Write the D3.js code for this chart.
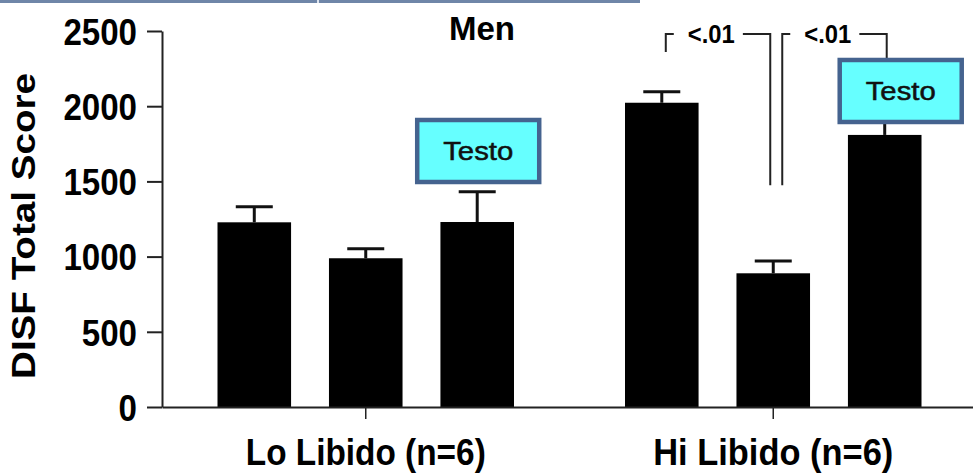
<!DOCTYPE html>
<html>
<head>
<meta charset="utf-8">
<script src="https://cdn.jsdelivr.net/npm/d3@7/dist/d3.min.js"></script>
<style>
  html, body { margin: 0; padding: 0; background: #fff; }
  svg { display: block; }
  text { font-family: "Liberation Sans", Arial, Helvetica, sans-serif; }
</style>
</head>
<body>
<svg id="chart" width="973" height="476"></svg>
<script>
// ---- data ----
const groups = ["Lo Libido (n=6)", "Hi Libido (n=6)"];
const conditions = ["Baseline", "Placebo", "Testo"];
const loMeans = [1228, 989, 1230];
const loErrors = [104, 64, 202];
const hiMeans = [2023, 889, 1809];
const hiErrors = [73, 82, 150];
const yTicks = [0, 500, 1000, 1500, 2000, 2500];
const pValues = ["<.01", "<.01"];
const title = "Men";
const yLabel = "DISF Total Score";
const boxLabel = "Testo";

const rows = [
  { group: groups[0], means: loMeans, errors: loErrors },
  { group: groups[1], means: hiMeans, errors: hiErrors }
];

const svg = d3.select("#chart");

// decorative top rule
svg.append("rect").attr("x", 0).attr("y", 0).attr("width", 640).attr("height", 3).attr("fill", "#6f86a8");
svg.append("rect").attr("x", 317).attr("y", 0).attr("width", 2).attr("height", 3).attr("fill", "#dfe5ee");

// ---- scales ----
const y = d3.scaleLinear().domain([0, 2500]).range([407, 31]);
const x0 = d3.scaleBand().domain(groups).range([162, 977]).paddingInner(0.2724).paddingOuter(0.1362);
const x1 = d3.scaleBand().domain(conditions).range([0, x0.bandwidth()]).paddingInner(0.34).paddingOuter(0);
const cx = (g, c) => x0(g) + x1(c) + x1.bandwidth() / 2;

// ---- bars ----
const bars = [];
rows.forEach(r => conditions.forEach((c, i) => bars.push({ group: r.group, cond: c, mean: r.means[i], err: r.errors[i] })));

// error bars
const eb = svg.append("g").attr("stroke", "#111").attr("stroke-width", 3);
bars.forEach(b => {
  const xc = cx(b.group, b.cond);
  eb.append("line").attr("x1", xc).attr("x2", xc).attr("y1", y(b.mean)).attr("y2", y(b.mean + b.err));
  eb.append("line").attr("x1", xc - 18.5).attr("x2", xc + 18.5).attr("y1", y(b.mean + b.err)).attr("y2", y(b.mean + b.err));
});

svg.append("g").selectAll("rect").data(bars).join("rect")
  .attr("x", d => x0(d.group) + x1(d.cond))
  .attr("y", d => y(d.mean))
  .attr("width", x1.bandwidth())
  .attr("height", d => y(0) - y(d.mean))
  .attr("fill", "#000");

// ---- axes ----
const yAxis = svg.append("g").attr("transform", "translate(162,0)")
  .call(d3.axisLeft(y).tickValues(yTicks).tickFormat(d3.format("d")).tickSize(15).tickPadding(10).tickSizeOuter(0));
yAxis.select(".domain").attr("stroke", "#222").attr("stroke-width", 2);
yAxis.selectAll(".tick line").attr("stroke", "#222").attr("stroke-width", 2);
yAxis.selectAll(".tick text").attr("fill", "#000").attr("font-size", 37).attr("font-weight", "bold")
  .attr("font-family", "Liberation Sans, Arial, sans-serif").attr("dy", "0.36em")
  .attr("textLength", function () { return this.textContent.length * 18.4; })
  .attr("lengthAdjust", "spacingAndGlyphs");

const xAxis = svg.append("g").attr("transform", `translate(0,${y(0)})`)
  .call(d3.axisBottom(x0).tickSize(12).tickPadding(20).tickSizeOuter(0));
xAxis.select(".domain").attr("stroke", "#222").attr("stroke-width", 2);
xAxis.selectAll(".tick line").attr("stroke", "#222").attr("stroke-width", 1.5);
xAxis.selectAll(".tick text").attr("fill", "#000").attr("font-size", 36).attr("font-weight", "bold")
  .attr("font-family", "Liberation Sans, Arial, sans-serif")
  .attr("textLength", 240).attr("lengthAdjust", "spacingAndGlyphs");

// y label
svg.append("text").attr("transform", "translate(35,226) rotate(-90)")
  .attr("text-anchor", "middle").attr("font-size", 34).attr("font-weight", "bold").attr("fill", "#000")
  .attr("textLength", 306).attr("lengthAdjust", "spacingAndGlyphs")
  .text(yLabel);

// title
svg.append("text").attr("x", 482).attr("y", 40).attr("text-anchor", "middle")
  .attr("font-size", 34).attr("font-weight", "bold").attr("fill", "#000")
  .attr("textLength", 66).attr("lengthAdjust", "spacingAndGlyphs").text(title);

// ---- significance brackets ----
const bracketY = y(2480);
function bracket(xa, xb, ya, yb, label) {
  const g = svg.append("g");
  const t = g.append("text").attr("x", xa + 22).attr("y", bracketY + 9).attr("font-size", 25)
    .attr("font-weight", "bold").attr("fill", "#000")
    .attr("textLength", 47).attr("lengthAdjust", "spacingAndGlyphs").text(label);
  const bb = t.node().getBBox();
  const path = d3.path();
  path.moveTo(xa, ya); path.lineTo(xa, bracketY); path.lineTo(bb.x - 14, bracketY);
  path.moveTo(bb.x + bb.width + 8, bracketY); path.lineTo(xb, bracketY); path.lineTo(xb, yb);
  g.append("path").attr("d", path.toString()).attr("fill", "none").attr("stroke", "#222").attr("stroke-width", 2);
}
const hi = groups[1];
bracket(cx(hi, conditions[0]) + 4, cx(hi, conditions[1]) - 3, y(2360), y(1475), pValues[0]);
bracket(cx(hi, conditions[1]) + 9, cx(hi, conditions[2]) + 2, y(1475), y(2320), pValues[1]);

// ---- Testo boxes ----
function testoBox(xc, bottomVal) {
  const w = 122, h = 62;
  const yb = y(bottomVal);
  svg.append("rect").attr("x", xc - w / 2).attr("y", yb - h).attr("width", w).attr("height", h)
    .attr("fill", "#66ffff").attr("stroke", "#45638f").attr("stroke-width", 4.5);
  svg.append("text").attr("x", xc).attr("y", yb - h / 2 + 9).attr("text-anchor", "middle")
    .attr("font-family", "DejaVu Sans, sans-serif").attr("font-size", 25).attr("fill", "#111")
    .attr("stroke", "#111").attr("stroke-width", 0.5)
    .attr("textLength", 70).attr("lengthAdjust", "spacingAndGlyphs").text(boxLabel);
}
testoBox(cx(groups[0], conditions[2]) + 1, 1496);
testoBox(cx(groups[1], conditions[2]) + 16, 1895);
</script>
</body>
</html>
